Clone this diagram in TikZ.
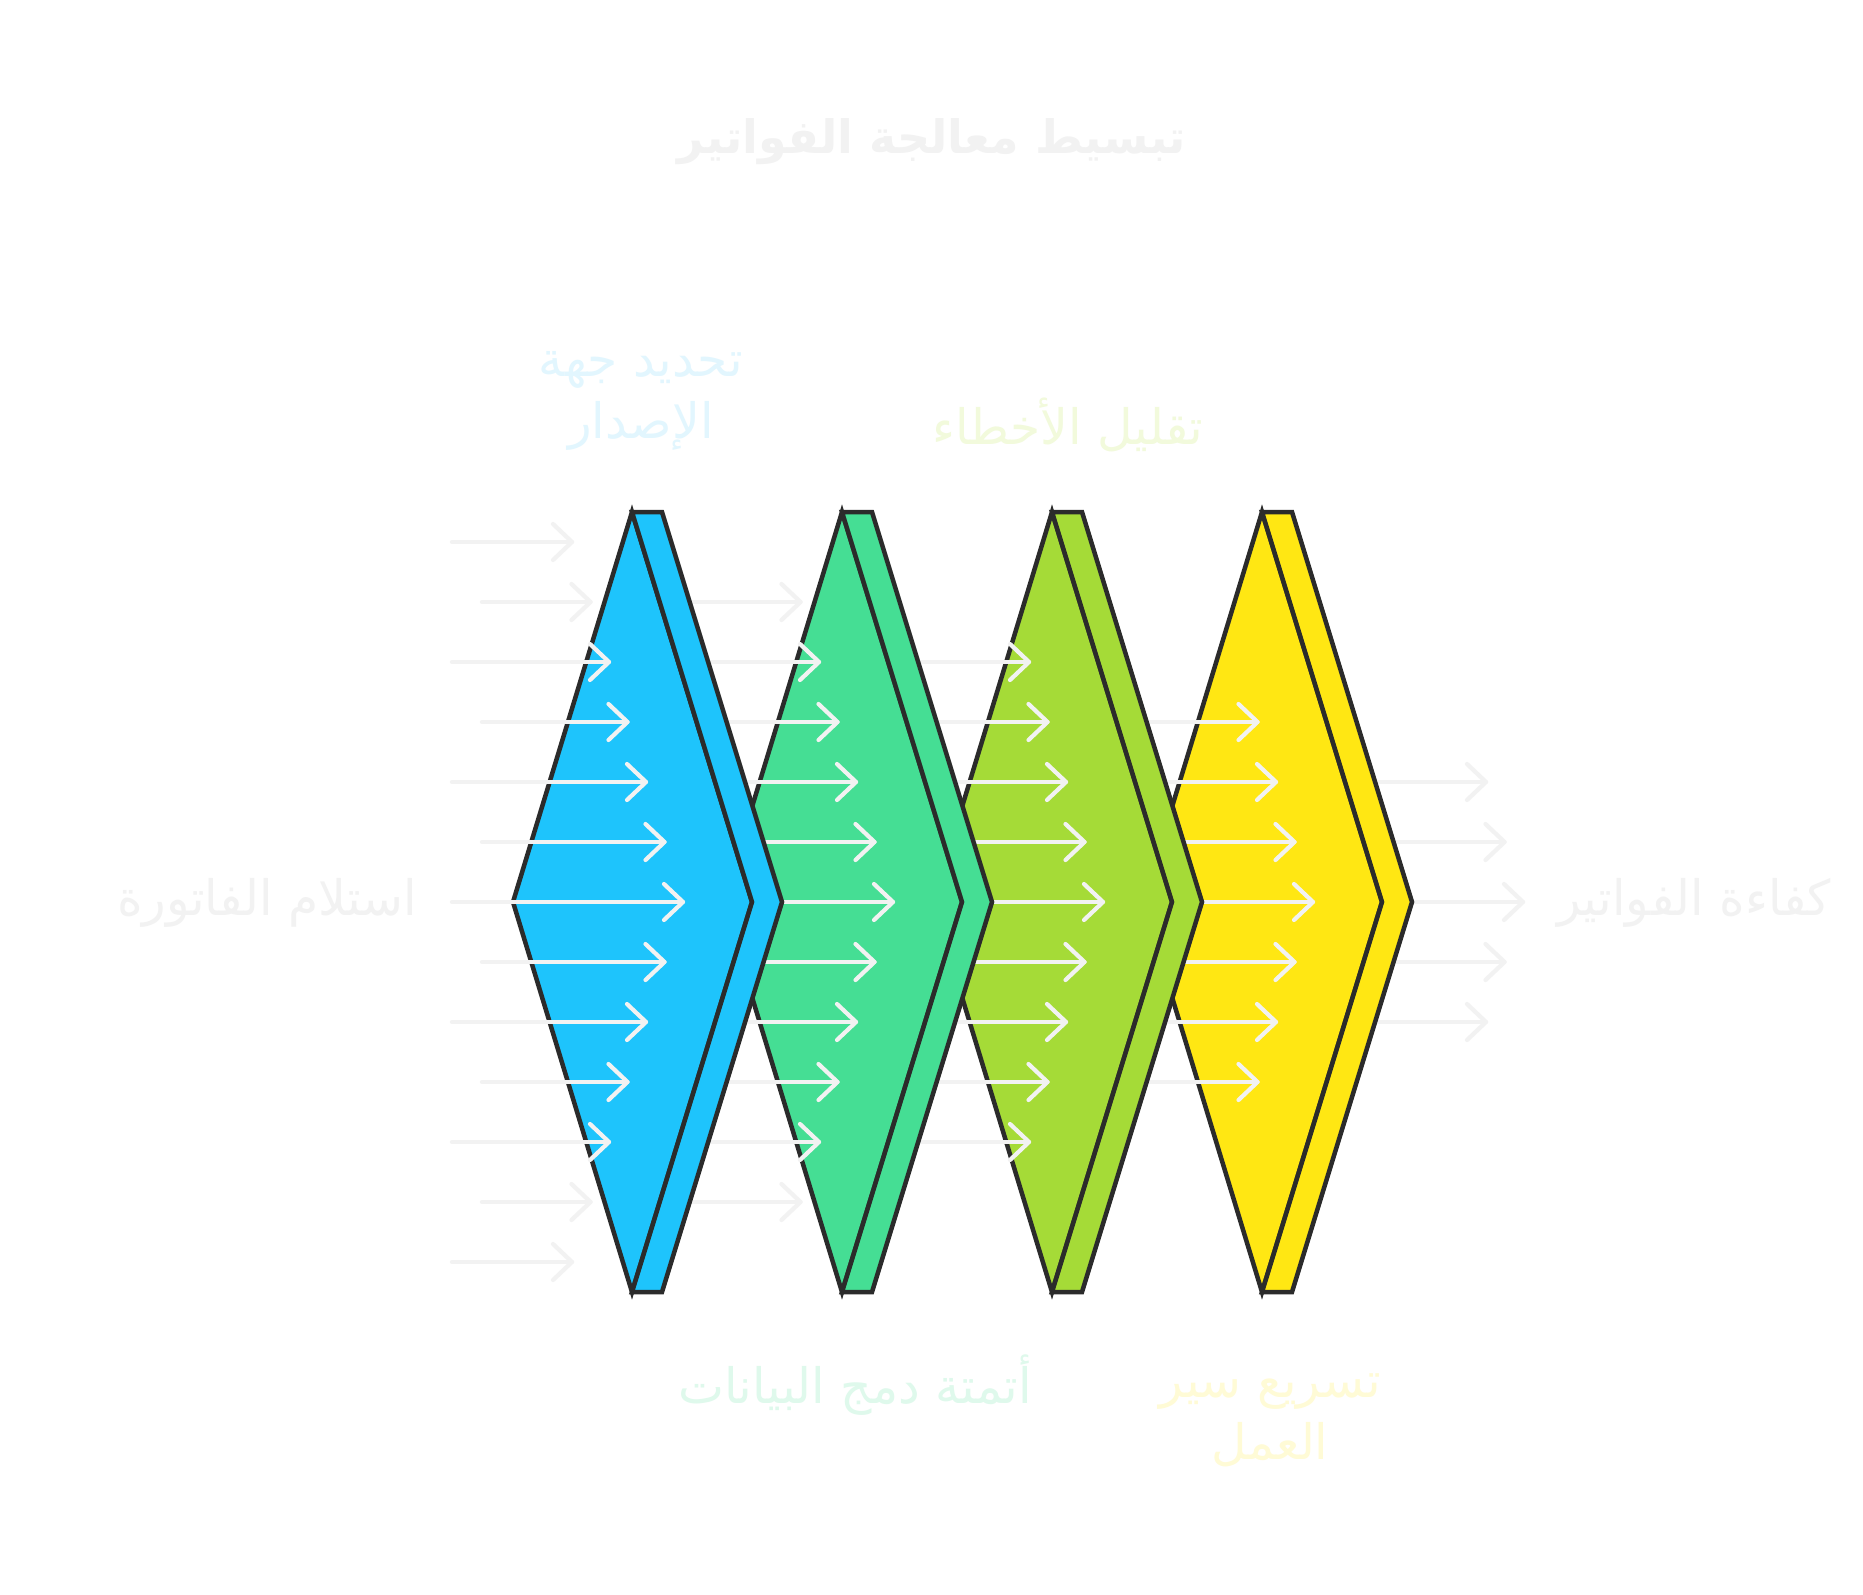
\documentclass[tikz,border=0pt]{standalone}
\usepackage{fontspec}
\newfontfamily\arabicfont[Script=Arabic]{DejaVu Sans}
\TeXXeTstate=1
\definecolor{cblue}{HTML}{1EC4FC}
\definecolor{cgreen}{HTML}{45DE94}
\definecolor{clime}{HTML}{A5DB37}
\definecolor{cyellow}{HTML}{FFE713}
\definecolor{cstroke}{HTML}{2B2B2B}
\definecolor{carrow}{HTML}{F2F2F2}
\definecolor{ttitle}{HTML}{F2F2F2}
\definecolor{tgrey}{HTML}{F2F2F2}
\definecolor{tblue}{HTML}{E2F6FE}
\definecolor{tgreen}{HTML}{DFF9EC}
\definecolor{tlime}{HTML}{F2FADC}
\definecolor{tyellow}{HTML}{FFFBD6}
\tikzset{
  stagebox/.style={draw=cstroke, line width=2.25pt, line join=miter},
  flowarrow/.style={draw=carrow, line width=2.1pt, line cap=round, line join=round},
  lbl/.style={font=\arabicfont\fontsize{24.4}{31}\selectfont, align=center, inner sep=0pt},
}
\newcommand\drawstageshape[2]{%
  \path[stagebox, fill=#2] (#1,512) -- (#1-119,902) -- (#1,1292) -- (#1+120,902) -- cycle;
  \path[stagebox, fill=#2] (#1,512) -- (#1+30,512) -- (#1+150,902) -- (#1+30,1292) -- (#1,1292) -- (#1+120,902) -- cycle;
}
\newcommand\drawarrowset[1]{% #1 = stage index s
  \pgfmathtruncatemacro\kmax{6-#1}
  \foreach \k in {-\kmax,...,\kmax}{
    \pgfmathsetmacro\yy{902+60*\k}
    \pgfmathtruncatemacro\ak{abs(\k)}
    \pgfmathsetmacro\xs{(isodd(\ak) ? 482 : 452) + 210*#1}
    \pgfmathsetmacro\xt{683 - 18.5*\ak + 210*#1}
    \coordinate (s#1a\ak\k) at (\xs,\yy);
    \coordinate (t#1a\ak\k) at (\xt,\yy);
    \path[flowarrow] (s#1a\ak\k) -- (t#1a\ak\k);
    \path[flowarrow] ([shift={(-19,-18)}]t#1a\ak\k) -- (t#1a\ak\k) -- ([shift={(-19,18)}]t#1a\ak\k);
  }
}
\begin{document}
\begin{tikzpicture}[x=0.5pt,y=-0.5pt]
\useasboundingbox (0,0) rectangle (1863,1595);
\fill[white] (0,0) rectangle (1863,1595);
% title
\node[font=\arabicfont\bfseries\fontsize{23}{28}\selectfont, text=ttitle, inner sep=0pt] (title) at (932,142) {\beginR تبسيط معالجة الفواتير\endR};
% stages drawn right to left
\drawarrowset{4}
\drawstageshape{1262}{cyellow}
\drawarrowset{3}
\drawstageshape{1052}{clime}
\drawarrowset{2}
\drawstageshape{842}{cgreen}
\drawarrowset{1}
\drawstageshape{632}{cblue}
\drawarrowset{0}
% labels
\node[lbl, text=tblue] (lblue) at (641,401) {\beginR تحديد جهة\endR\\\beginR الإصدار\endR};
\node[lbl, text=tlime] (llime) at (1068,425) {\beginR تقليل الأخطاء\endR};
\node[lbl, text=tgrey] (lin) at (267,903) {\beginR استلام الفاتورة\endR};
\node[lbl, text=tgrey] (lout) at (1694,903) {\beginR كفاءة الفواتير\endR};
\node[lbl, text=tgreen] (lgreen) at (855,1385) {\beginR أتمتة دمج البيانات\endR};
\node[lbl, text=tyellow] (lyellow) at (1270,1420) {\beginR تسريع سير\endR\\\beginR العمل\endR};
\end{tikzpicture}
\end{document}
